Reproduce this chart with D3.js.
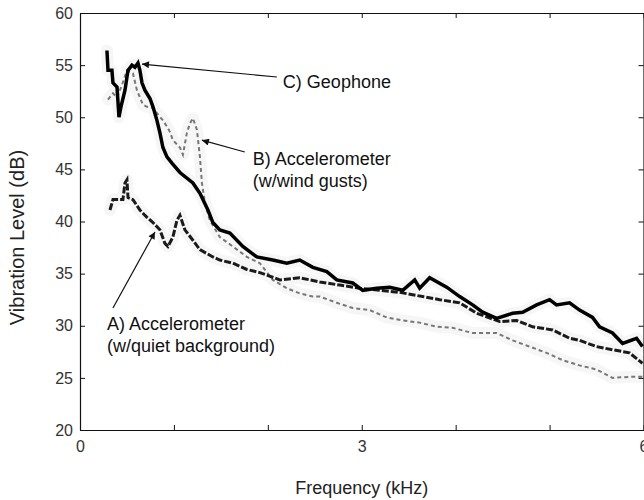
<!DOCTYPE html>
<html>
<head>
<meta charset="utf-8">
<script src="https://cdn.jsdelivr.net/npm/d3@7"></script>
<style>
  body { margin: 0; background: #fff; }
  svg { display: block; font-family: Arial, "Liberation Sans", sans-serif; }
</style>
</head>
<body>
<svg id="chart" width="644" height="500"></svg>
<script>
// Frequency (kHz) / level (dB) pairs
const geoFreq = [0.287, 0.298, 0.340, 0.351, 0.394, 0.415, 0.436, 0.479, 0.511, 0.553, 0.585, 0.617, 0.638, 0.660, 0.691, 0.745, 0.777, 0.819, 0.851, 0.883, 0.926, 0.979, 1.064, 1.202, 1.277, 1.362, 1.415, 1.489, 1.596, 1.734, 1.883, 2.053, 2.202, 2.340, 2.479, 2.628, 2.734, 2.904, 3.011, 3.160, 3.298, 3.436, 3.564, 3.617, 3.723, 3.904, 4.043, 4.181, 4.287, 4.436, 4.606, 4.713, 4.862, 5.000, 5.074, 5.213, 5.319, 5.457, 5.532, 5.670, 5.777, 5.926, 5.989];
const geoLevel = [56.4, 54.5, 54.5, 53.3, 52.9, 50.0, 51.0, 52.6, 54.5, 55.0, 54.8, 55.2, 54.5, 53.3, 52.6, 51.8, 51.0, 49.7, 48.5, 47.1, 46.2, 45.6, 44.7, 43.7, 42.7, 41.1, 39.9, 39.2, 38.9, 37.6, 36.6, 36.3, 36.0, 36.3, 35.6, 35.2, 34.4, 34.1, 33.4, 33.6, 33.7, 33.4, 34.4, 33.6, 34.6, 33.7, 32.8, 32.0, 31.3, 30.7, 31.2, 31.3, 32.0, 32.5, 32.0, 32.2, 31.5, 30.8, 29.9, 29.3, 28.3, 28.8, 28.0];

const quietFreq = [0.319, 0.351, 0.457, 0.479, 0.500, 0.511, 0.564, 0.638, 0.713, 0.777, 0.851, 0.904, 0.936, 0.989, 1.032, 1.064, 1.117, 1.202, 1.277, 1.415, 1.489, 1.628, 1.777, 1.915, 2.128, 2.340, 2.553, 2.766, 2.979, 3.191, 3.404, 3.649, 3.830, 4.043, 4.223, 4.468, 4.649, 4.819, 5.032, 5.213, 5.319, 5.500, 5.670, 5.851, 5.989];
const quietLevel = [41.1, 42.1, 42.1, 43.7, 44.0, 42.3, 42.1, 41.1, 40.4, 39.9, 39.2, 37.9, 37.6, 38.5, 40.1, 40.6, 39.2, 38.2, 37.3, 36.6, 36.3, 36.0, 35.4, 35.1, 34.4, 34.6, 34.2, 33.9, 33.6, 33.4, 33.2, 32.8, 32.5, 32.2, 31.2, 30.4, 30.5, 29.9, 29.6, 28.8, 28.6, 28.0, 27.7, 27.4, 26.4];

const windFreq = [0.298, 0.351, 0.394, 0.447, 0.500, 0.564, 0.606, 0.670, 0.713, 0.777, 0.819, 0.883, 0.926, 0.957, 0.989, 1.064, 1.096, 1.138, 1.170, 1.202, 1.245, 1.277, 1.298, 1.330, 1.383, 1.489, 1.628, 1.777, 1.915, 2.053, 2.202, 2.340, 2.479, 2.553, 2.734, 2.904, 3.085, 3.266, 3.436, 3.617, 3.798, 3.968, 4.181, 4.436, 4.606, 4.787, 4.968, 5.138, 5.319, 5.500, 5.670, 5.851, 5.989];
const windLevel = [51.7, 52.3, 51.9, 53.1, 54.5, 54.2, 52.6, 51.2, 51.0, 50.9, 50.4, 49.7, 49.1, 48.6, 47.8, 47.1, 46.4, 48.5, 49.4, 49.9, 48.8, 46.2, 43.7, 41.8, 40.1, 38.5, 37.6, 36.6, 36.0, 34.4, 33.6, 33.1, 32.8, 32.8, 32.2, 31.7, 31.5, 30.8, 30.5, 30.3, 29.9, 29.8, 29.3, 29.3, 28.6, 28.0, 27.4, 26.7, 26.2, 25.8, 25.0, 25.1, 25.1];

const xTicks = [0, 1, 2, 3, 4, 5, 6];
const xTickLabels = ['0', '', '', '3', '', '', '6'];
const yTicks = [20, 25, 30, 35, 40, 45, 50, 55, 60];

// annotations: text lines, text anchor point, arrow tail and tip (data units)
const notes = [
  { lines: ['C) Geophone'], at: [2.16, 52.8], from: [2.096, 53.86], to: [0.66, 55.1] },
  { lines: ['B) Accelerometer', '(w/wind gusts)'], at: [1.84, 45.42], from: [1.755, 46.67], to: [1.298, 47.8] },
  { lines: ['A) Accelerometer', '(w/quiet background)'], at: [0.287, 29.6], from: [0.351, 31.7], to: [0.798, 39.0] }
];

const svg = d3.select('#chart');
const x = d3.scaleLinear().domain([0, 6]).range([80, 643.5]);
const y = d3.scaleLinear().domain([20, 60]).range([430, 13]);

svg.append('defs').append('marker')
  .attr('id', 'head')
  .attr('viewBox', '0 0 10 10')
  .attr('refX', 10).attr('refY', 5)
  .attr('markerWidth', 9).attr('markerHeight', 7)
  .attr('markerUnits', 'userSpaceOnUse')
  .attr('orient', 'auto')
  .append('path').attr('d', 'M0,0L10,5L0,10z').attr('fill', '#111');

const zip = (fs, vs) => fs.map((f, i) => [f, vs[i]]);
const line = d3.line().x(d => x(d[0])).y(d => y(d[1]));

const series = [
  { pts: zip(windFreq, windLevel), color: '#777', width: 2, dash: '4,3' },
  { pts: zip(quietFreq, quietLevel), color: '#1a1a1a', width: 3, dash: '7,2' },
  { pts: zip(geoFreq, geoLevel), color: '#000', width: 3.5, dash: null }
];

// faint speckle halo seen around the traces
const halo = svg.append('g');
series.forEach(s => {
  halo.append('path').datum(s.pts)
    .attr('d', line).attr('fill', 'none')
    .attr('stroke', '#f6f6f6').attr('stroke-width', 12)
    .attr('stroke-linejoin', 'round').attr('stroke-linecap', 'round');
});

series.forEach(s => {
  svg.append('path').datum(s.pts)
    .attr('d', line).attr('fill', 'none')
    .attr('stroke', s.color).attr('stroke-width', s.width)
    .attr('stroke-dasharray', s.dash)
    .attr('stroke-linejoin', 'miter');
});

// axes, ticks pointing inward
const styleAxis = g => {
  g.selectAll('path.domain').attr('stroke', '#111').attr('stroke-width', 1.2);
  g.selectAll('.tick line').attr('stroke', '#111');
  g.selectAll('.tick text').attr('fill', '#333').attr('font-size', 16)
    .attr('font-family', 'Arial, "Liberation Sans", sans-serif');
};

svg.append('g').attr('transform', `translate(0,${y(20)})`)
  .call(d3.axisBottom(x).tickValues(xTicks).tickSize(-5).tickSizeOuter(0).tickPadding(11)
    .tickFormat((d, i) => xTickLabels[i]))
  .call(styleAxis);
svg.append('g').attr('transform', `translate(0,${y(60)})`)
  .call(d3.axisTop(x).tickValues(xTicks).tickSize(-5).tickSizeOuter(0).tickFormat(''))
  .call(styleAxis);
svg.append('g').attr('transform', `translate(${x(0)},0)`)
  .call(d3.axisLeft(y).tickValues(yTicks).tickSize(-5).tickSizeOuter(0).tickPadding(7))
  .call(styleAxis);
svg.append('g').attr('transform', `translate(${x(6)},0)`)
  .call(d3.axisRight(y).tickValues(yTicks).tickSize(-5).tickSizeOuter(0).tickFormat(''))
  .call(styleAxis);

// axis titles
svg.append('text')
  .attr('x', x(3)).attr('y', 494)
  .attr('text-anchor', 'middle').attr('font-size', 18).attr('fill', '#222')
  .text('Frequency (kHz)');
svg.append('text')
  .attr('transform', `translate(24,${y(40) + 16}) rotate(-90)`)
  .attr('text-anchor', 'middle').attr('font-size', 20).attr('fill', '#222')
  .text('Vibration Level (dB)');

// annotations
notes.forEach(n => {
  svg.append('line')
    .attr('x1', x(n.from[0])).attr('y1', y(n.from[1]))
    .attr('x2', x(n.to[0])).attr('y2', y(n.to[1]))
    .attr('stroke', '#111').attr('stroke-width', 1.2)
    .attr('marker-end', 'url(#head)');
  const t = svg.append('text')
    .attr('x', x(n.at[0])).attr('y', y(n.at[1]))
    .attr('font-size', 18).attr('fill', '#111');
  n.lines.forEach((s, i) => {
    t.append('tspan').attr('x', x(n.at[0])).attr('dy', i ? 22 : 0).text(s);
  });
});
</script>
</body>
</html>
